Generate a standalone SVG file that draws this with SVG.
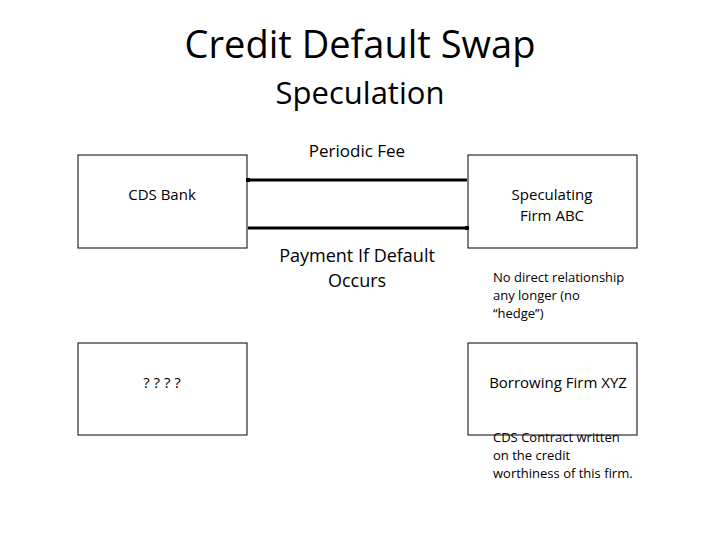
<svg xmlns="http://www.w3.org/2000/svg" width="720" height="540" viewBox="0 0 720 540">
<style>
text{font-family:"Open Sans","Noto Sans",sans-serif;fill:#000}
.box{fill:#fff;stroke:#000;stroke-width:1}
.c{stroke:#000;stroke-width:3;fill:none}
</style>
<rect width="720" height="540" fill="#fff"/>
<text x="360" y="58" font-size="38" text-anchor="middle" font-family="Liberation Sans">Credit Default Swap</text>
<text x="360" y="104" font-size="31" text-anchor="middle">Speculation</text>
<text x="357" y="157" font-size="17" text-anchor="middle">Periodic Fee</text>
<g id="bank"><rect class="box" x="78" y="155" width="169" height="93"/><text x="162" y="200" font-size="15" text-anchor="middle">CDS Bank</text></g>
<g id="abc"><rect class="box" x="468" y="155" width="169" height="93"/><text x="552" y="200" font-size="15" text-anchor="middle">Speculating</text><text x="552" y="221" font-size="15" text-anchor="middle">Firm ABC</text></g>
<g id="unknown"><rect class="box" x="78" y="343" width="169" height="92"/><text x="162" y="388" font-size="15" text-anchor="middle">? ? ? ?</text></g>
<g id="xyz"><rect class="box" x="468" y="343" width="169" height="92"/><text x="558" y="388" font-size="15" text-anchor="middle">Borrowing Firm XYZ</text></g>
<g id="connectors">
<line class="c" x1="248" y1="180" x2="467" y2="180"/>
<rect x="246" y="178" width="4" height="4"/>
<line class="c" x1="248" y1="228" x2="467" y2="228"/>
<rect x="465" y="226" width="4" height="4"/>
</g>
<text x="357" y="262" font-size="18" text-anchor="middle">Payment If Default</text>
<text x="357" y="287" font-size="18" text-anchor="middle">Occurs</text>
<g font-size="13"><text x="493" y="282">No direct relationship</text><text x="493" y="300">any longer (no</text><text x="493" y="318">“hedge”)</text></g>
<g font-size="13"><text x="493" y="442">CDS Contract written</text><text x="493" y="460">on the credit</text><text x="493" y="478">worthiness of this firm.</text></g>
</svg>
